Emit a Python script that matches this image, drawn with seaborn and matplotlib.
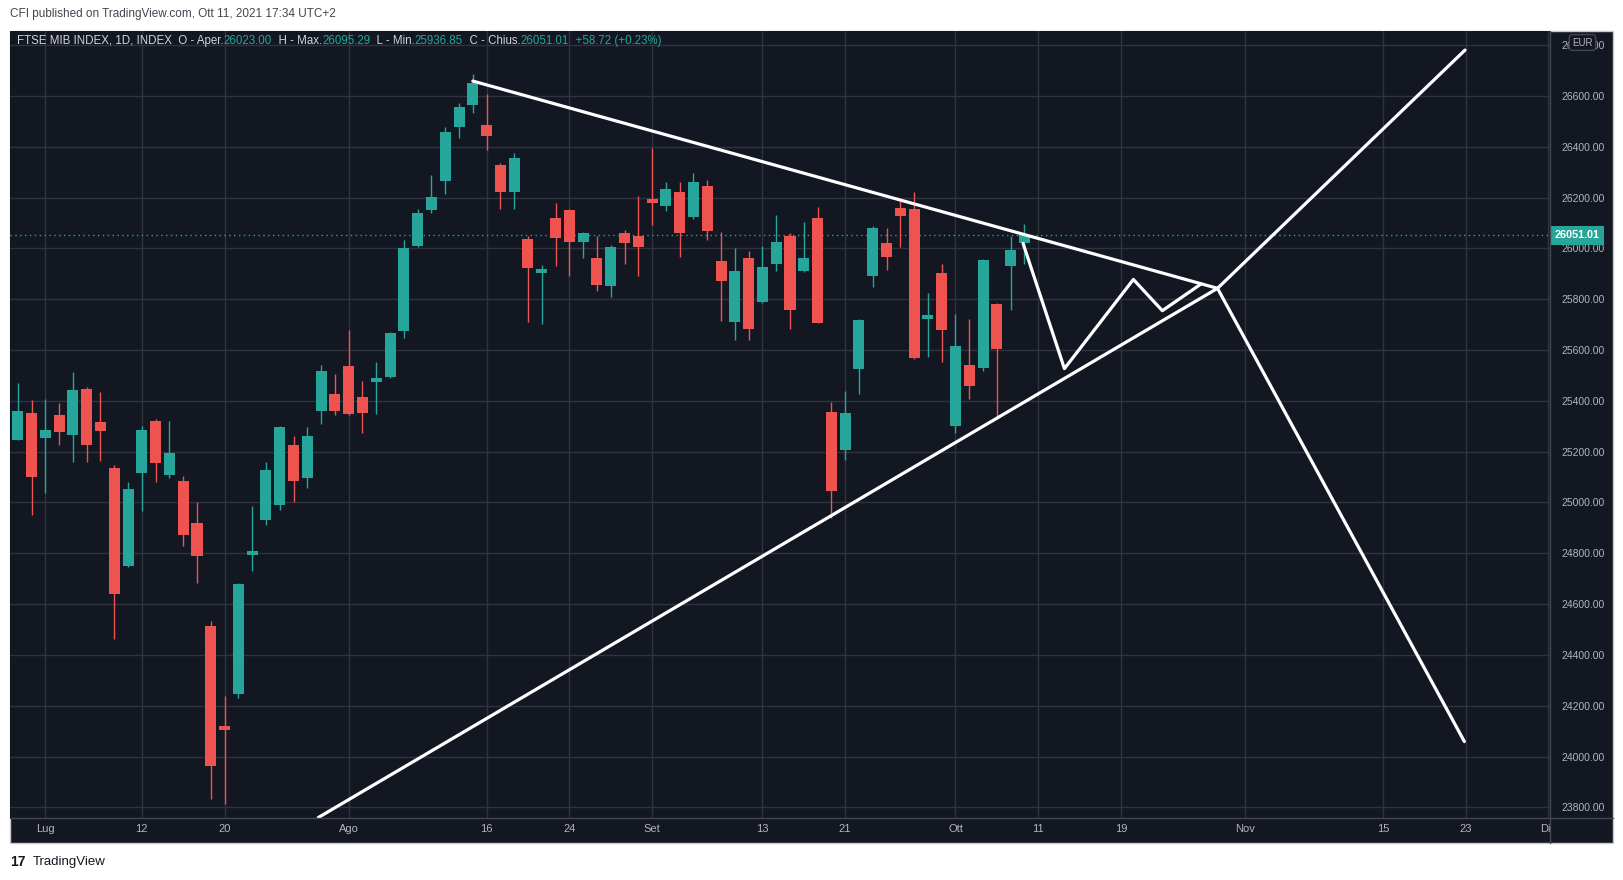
import numpy as np
import pandas as pd
import matplotlib
matplotlib.use("Agg")
import matplotlib.pyplot as plt
import seaborn as sns
from matplotlib.patches import Rectangle
from matplotlib.lines import Line2D
from matplotlib.transforms import Bbox, blended_transform_factory
from matplotlib.ticker import FormatStrFormatter

# FTSE MIB daily candles, 29 Jun 2021 -> 11 Oct 2021 (bar 0 = 1 Jul)
first_bar = -2
opens = [25247, 25352, 25255, 25344, 25267, 25447, 25317, 25136, 24751, 25117,
         25321, 25109, 25085, 24919, 24514, 24112, 24247, 24795, 24932, 24991,
         25226, 25098, 25361, 25427, 25537, 25415, 25474, 25494, 25675, 26010,
         26152, 26266, 26478, 26565, 26486, 26329, 26222, 26037, 25904, 26120,
         26152, 26026, 25963, 25852, 26061, 26049, 26186, 26167, 26222, 26124,
         26246, 25951, 25711, 25963, 25789, 25939, 26049, 25911, 26120, 25356,
         25207, 25526, 25892, 26022, 26159, 26155, 25723, 25904, 25301, 25541,
         25530, 25782, 25931, 26023.00]
highs = [25470, 25404, 25408, 25392, 25514, 25455, 25435, 25148, 25081, 25301,
         25329, 25321, 25104, 25002, 24534, 24238, 24683, 24986, 25160, 25300,
         25262, 25297, 25541, 25506, 25679, 25478, 25553, 25671, 26034, 26156,
         26289, 26478, 26573, 26687, 26608, 26335, 26376, 26049, 25935, 26179,
         26156, 26065, 26049, 26014, 26073, 26207, 26396, 26262, 26262, 26297,
         26270, 26065, 26002, 25990, 26010, 26132, 26061, 26104, 26163, 25396,
         25439, 25722, 26089, 26081, 26187, 26222, 25825, 25939, 25742, 25723,
         25958, 25786, 26049, 26095.29]
lows = [25245, 24952, 25037, 25228, 25161, 25161, 25165, 24464, 24745, 24968,
        25082, 25098, 24830, 24684, 23834, 23815, 24232, 24731, 24913, 24972,
        25003, 25058, 25310, 25346, 25345, 25274, 25348, 25490, 25648, 26006,
        26140, 26215, 26435, 26533, 26388, 26156, 26156, 25711, 25703, 25931,
        25892, 25963, 25833, 25809, 25939, 25892, 26093, 26148, 25967, 26116,
        26034, 25715, 25640, 25640, 25785, 25911, 25683, 25908, 25705, 24939,
        25167, 25427, 25849, 25916, 26006, 25566, 25573, 25553, 25274, 25407,
        25518, 25329, 25758, 25936.85]
closes = [25360, 25102, 25285, 25279, 25443, 25228, 25283, 24641, 25053, 25285,
          25157, 25195, 24873, 24791, 23964, 24105, 24679, 24805, 25128, 25297,
          25086, 25262, 25518, 25361, 25348, 25352, 25490, 25667, 26002, 26140,
          26203, 26459, 26557, 26652, 26443, 26222, 26356, 25923, 25920, 26041,
          26026, 26061, 25856, 26006, 26022, 26006, 26180, 26234, 26061, 26262,
          26069, 25872, 25911, 25683, 25927, 26026, 25758, 25963, 25707, 25045,
          25352, 25719, 26081, 25967, 26128, 25569, 25739, 25679, 25616, 25459,
          25955, 25604, 25992.29, 26051.01]

tick_bars = [0, 7, 13, 22, 32, 38, 44, 52, 58, 66, 72, 78, 87, 97, 103, 109]
tick_labels = ["Lug", "12", "20", "Ago", "16", "24", "Set", "13", "21", "Ott",
               "11", "19", "Nov", "15", "23", "Dic"]
price_ticks = list(range(23800, 26801, 200))

# white hand-drawn lines: (bar index, price)
upper_x, upper_y = [31.0, 85.0], [26659, 25843]
lower_x, lower_y = [19.8, 85.0], [23760, 25843]
zig_x = [70.9, 73.9, 78.9, 81.0, 83.8]
zig_y = [26020, 25527, 25878, 25755, 25860]
rise_x, rise_y = [85.0, 102.95], [25843, 26781]
fall_x, fall_y = [85.0, 102.9], [25843, 24059]

BG = "#131722"
GRID = "#2f333e"
GREEN = "#26a69a"
RED = "#ef5350"
TXT = "#b2b5be"
LEG = "#d1d4dc"
BORDER = "#434651"

sns.set_style("dark")
plt.rcParams["font.family"] = ["Liberation Sans", "DejaVu Sans"]

W, H = 1624, 880
fig = plt.figure(figsize=(W / 100, H / 100), dpi=100, facecolor="white")


def fx(px):
    return px / W


def fy(py):
    return 1 - py / H


frame = Rectangle((fx(10), fy(843)), fx(1613) - fx(10), fy(31) - fy(843),
                  transform=fig.transFigure, facecolor=BG, edgecolor="#c9cbd1",
                  lw=1, zorder=-1)
fig.patches.append(frame)

ax = fig.add_axes([fx(10), fy(818), fx(1550) - fx(10), fy(31) - fy(818)])
ax.set_facecolor(BG)

o = np.array(opens, float)
h = np.array(highs, float)
l = np.array(lows, float)
c = np.array(closes, float)
x = np.arange(len(o)) + first_bar
colors = np.where(c >= o, GREEN, RED)
ax.vlines(x, l, h, colors=colors, lw=1, zorder=3)
ax.bar(x, np.maximum(np.abs(c - o), 14), bottom=np.minimum(o, c), width=0.8,
       color=colors, lw=0, zorder=4)

# last price dotted line + label
last = closes[-1]
ax.axhline(last, color=GREEN, lw=1, ls=(0, (1, 2.5)), zorder=2)

for lx, ly in [(upper_x, upper_y), (lower_x, lower_y), (zig_x, zig_y),
               (rise_x, rise_y), (fall_x, fall_y)]:
    sns.lineplot(x=lx, y=ly, ax=ax, color="white", lw=2.3, sort=False,
                 estimator=None, zorder=6)

ax.set_xlim(-2.56, 109.11)
ax.set_ylim(23758, 26856)
ax.set_xticks(tick_bars)
ax.set_xticklabels(tick_labels)
ax.set_yticks(price_ticks)
ax.yaxis.tick_right()
ax.yaxis.set_major_formatter(FormatStrFormatter("%.2f"))
ax.grid(True, color=GRID, lw=1)
ax.set_axisbelow(True)
ax.set_xlabel("")
ax.set_ylabel("")
for s in ax.spines.values():
    s.set_visible(False)
ax.tick_params(axis="y", length=0, pad=8, labelsize=7.5, labelcolor=TXT)
ax.tick_params(axis="x", length=0, pad=4.5, labelsize=8, labelcolor=TXT)
clip = Bbox.from_extents(0, 0, 1550, H)
for lab in ax.get_xticklabels():
    lab.set_clip_on(True)
    lab.set_clip_box(clip)

trans = blended_transform_factory(ax.transAxes, ax.transData)
ax.annotate(f"{last:.2f}", xy=(1, last), xycoords=trans, xytext=(5, 0),
            textcoords="offset pixels", ha="left", va="center", fontsize=7.8,
            color="white", weight="bold", annotation_clip=False, zorder=9,
            bbox=dict(boxstyle="square,pad=0.4", fc=GREEN, ec="none"))

# legend line on top of the chart
chg = closes[-1] - closes[-2]
pct = chg / closes[-2] * 100
pieces = [("FTSE MIB INDEX, 1D, INDEX  O - Aper.", LEG), (f"{opens[-1]:.2f}", GREEN),
          ("  H - Max.", LEG), (f"{highs[-1]:.2f}", GREEN),
          ("  L - Min.", LEG), (f"{lows[-1]:.2f}", GREEN),
          ("  C - Chius.", LEG), (f"{closes[-1]:.2f}", GREEN),
          (f"  {chg:+.2f} ({pct:+.2f}%)", GREEN)]
prev = ax.text(7 / 1540, (818 - 47) / 787, pieces[0][0], transform=ax.transAxes,
               ha="left", va="bottom", fontsize=8.3, color=pieces[0][1], zorder=9)
for txt, col in pieces[1:]:
    prev = ax.annotate(txt, xy=(1, 0), xycoords=prev, ha="left", va="bottom",
                       fontsize=8.3, color=col, zorder=9)

fig.add_artist(Line2D([fx(1550), fx(1550)], [fy(31), fy(843)],
                      transform=fig.transFigure, color=BORDER, lw=1, zorder=6))
fig.add_artist(Line2D([fx(10), fx(1613)], [fy(818), fy(818)],
                      transform=fig.transFigure, color=BORDER, lw=1, zorder=6))

# currency badge sits over the top price label, as in the original
fig.text(fx(1582.5), fy(42.5), "EUR", ha="center", va="center", fontsize=7,
         color=TXT, zorder=8,
         bbox=dict(boxstyle="round,pad=0.3,rounding_size=0.3", fc=BG,
                   ec=BORDER, lw=1))

fig.text(fx(10), fy(13.5), "CFI published on TradingView.com, Ott 11, 2021 17:34 UTC+2",
         ha="left", va="center", fontsize=8.5, color="#434651")
fig.text(fx(10), fy(862), "17", ha="left", va="center", fontsize=10,
         weight="heavy", color="#131722")
fig.text(fx(33), fy(862), "TradingView", ha="left", va="center", fontsize=9.5,
         color="#131722")

fig.savefig("out.png", dpi=100, facecolor="white")
